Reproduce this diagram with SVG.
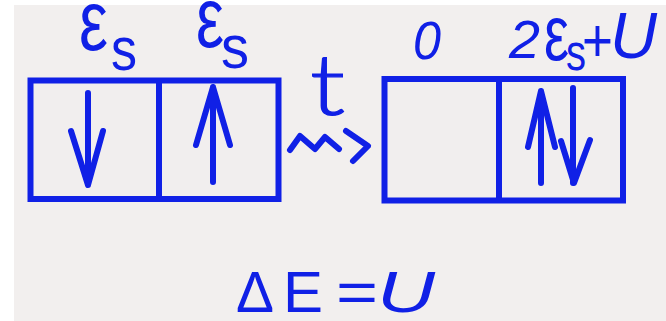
<svg xmlns="http://www.w3.org/2000/svg" width="666" height="321" viewBox="0 0 666 321">
  <style>
    .ink { fill: none; stroke: #1020e6; stroke-width: 6; stroke-linecap: round; stroke-linejoin: round; }
    .box { fill: #f1eeee; stroke: #1020e6; stroke-width: 6; stroke-linecap: square; }
    .div { stroke: #1020e6; stroke-width: 6; }
    .lbl { fill: #1020e6; font-family: "Liberation Sans", Arial, sans-serif; }
    .it { font-style: italic; }
    .thin { font-family: Lato, "Liberation Sans", sans-serif; font-weight: 300; }
  </style>
  <rect x="0" y="0" width="666" height="321" fill="#ffffff"/>
  <rect x="14" y="5" width="652" height="316" fill="#f2efee"/>

  <g id="left-pair">
    <rect class="box" x="30.5" y="80.5" width="248" height="118.5"/>
    <line class="div" x1="159" y1="80.5" x2="159" y2="199"/>
    <path class="ink" d="M88,93 L88,185 M71,131 L88,185 L103,131"/>
    <path class="ink" d="M213,182 L213,87 M196,145 L213,87 L230,145"/>
    <text class="lbl" x="79" y="50" font-size="86" textLength="29" lengthAdjust="spacingAndGlyphs">ε</text>
    <text class="lbl" x="111" y="70" font-size="62" textLength="26" lengthAdjust="spacingAndGlyphs">s</text>
    <text class="lbl" x="196" y="47" font-size="86" textLength="28" lengthAdjust="spacingAndGlyphs">ε</text>
    <text class="lbl" x="221" y="68" font-size="62" textLength="28" lengthAdjust="spacingAndGlyphs">s</text>
  </g>

  <g id="right-pair">
    <rect class="box" x="384.5" y="79" width="238.5" height="121.5"/>
    <line class="div" x1="499" y1="79" x2="499" y2="200.5"/>
    <path class="ink" d="M541,183 L541,91 M528,147 L541,91 L555,147"/>
    <path class="ink" d="M573,88 L573,183 M561,141 L574,183 L590,140"/>
    <text class="lbl it" x="413" y="59" font-size="54" textLength="28" lengthAdjust="spacingAndGlyphs">0</text>
    <text class="lbl it" x="509" y="58" font-size="54" textLength="31" lengthAdjust="spacingAndGlyphs">2</text>
    <text class="lbl" x="544" y="60" font-size="78" textLength="25" lengthAdjust="spacingAndGlyphs">ε</text>
    <text class="lbl" x="566" y="70" font-size="52" textLength="20" lengthAdjust="spacingAndGlyphs">s</text>
    <text class="lbl" x="582" y="61" font-size="62" textLength="31" lengthAdjust="spacingAndGlyphs">+</text>
    <text class="lbl it" x="610" y="58" font-size="64" textLength="47" lengthAdjust="spacingAndGlyphs">U</text>
  </g>

  <g id="transition">
    <text class="lbl thin" x="310" y="115" font-size="84" textLength="35" lengthAdjust="spacingAndGlyphs" stroke="#1020e6" stroke-width="1.2">t</text>
    <path class="ink" d="M290,150 L300,136 L315,149 L325,137 L339,149"/>
    <path class="ink" d="M346,131 L368,146 L353,161"/>
  </g>

  <g id="equation">
    <text class="lbl" y="312" font-size="58"><tspan x="236" textLength="38" lengthAdjust="spacingAndGlyphs">Δ</tspan><tspan x="283" textLength="40" lengthAdjust="spacingAndGlyphs">E</tspan> <tspan x="336" textLength="42" lengthAdjust="spacingAndGlyphs">=</tspan><tspan x="377" class="it" textLength="58" lengthAdjust="spacingAndGlyphs">U</tspan></text>
  </g>
</svg>
